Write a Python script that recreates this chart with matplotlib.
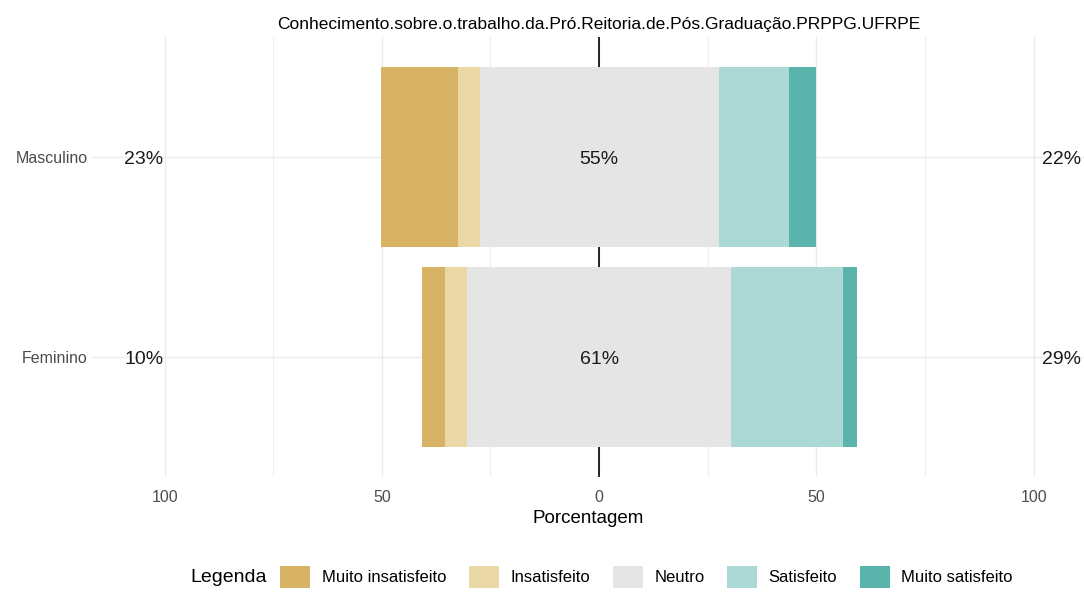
import matplotlib
matplotlib.use("Agg")
import matplotlib.pyplot as plt
from matplotlib.patches import Patch
import numpy as np

plt.rcParams['font.family'] = ['Liberation Sans', 'DejaVu Sans']

title = "Conhecimento.sobre.o.trabalho.da.Pró.Reitoria.de.Pós.Graduação.PRPPG.UFRPE"
categories = ['Masculino', 'Feminino']
levels = ['Muito insatisfeito', 'Insatisfeito', 'Neutro', 'Satisfeito', 'Muito satisfeito']
muito_insatisfeito = [17.6, 5.2]
insatisfeito = [5.0, 5.2]
neutro = [55.0, 60.6]
satisfeito = [16.1, 25.8]
muito_satisfeito = [6.3, 3.2]
xticks = [-100, -50, 0, 50, 100]
xticklabels = ['100', '50', '0', '50', '100']

colors = ['#D8B365', '#EAD8A7', '#E5E5E5', '#ACD9D5', '#5AB4AC']

W, H = 1084, 594
fig = plt.figure(figsize=(W / 100, H / 100), dpi=100)
ax = fig.add_axes([92 / W, 1 - 477 / H, (W - 92) / W, 440 / H])

ypos = np.array([2, 1])
mi = np.array(muito_insatisfeito)
ins = np.array(insatisfeito)
neu = np.array(neutro)
sat = np.array(satisfeito)
ms = np.array(muito_satisfeito)

h = 0.9
left_neu = -neu / 2
ax.barh(ypos, neu, left=left_neu, height=h, color=colors[2], zorder=3)
ax.barh(ypos, ins, left=left_neu - ins, height=h, color=colors[1], zorder=3)
ax.barh(ypos, mi, left=left_neu - ins - mi, height=h, color=colors[0], zorder=3)
ax.barh(ypos, sat, left=neu / 2, height=h, color=colors[3], zorder=3)
ax.barh(ypos, ms, left=neu / 2 + sat, height=h, color=colors[4], zorder=3)

ax.axvline(0, color='black', lw=1.2, zorder=2)

low = mi + ins
high = sat + ms
for y, lo, n, hi in zip(ypos, low, neu, high):
    ax.text(-100.3, y, f"{int(round(lo))}%", ha='right', va='center_baseline', fontsize=14, color='#1a1a1a', zorder=4)
    ax.text(102.0, y, f"{int(round(hi))}%", ha='left', va='center_baseline', fontsize=14, color='#1a1a1a', zorder=4)
    ax.text(0, y, f"{int(round(n))}%", ha='center', va='center_baseline', fontsize=14, color='#1a1a1a', zorder=4)

ax.set_xlim(-116.7, 111.6)
ax.set_ylim(0.4, 2.6)
ax.set_xticks(xticks)
ax.set_xticklabels(xticklabels)
ax.set_xticks([-75, -25, 25, 75], minor=True)
ax.set_yticks(ypos)
ax.set_yticklabels(categories)
ax.grid(True, which='major', color='#EBEBEB', lw=1.0, zorder=0)
ax.grid(True, which='minor', axis='x', color='#EFEFEF', lw=0.8, zorder=0)
ax.tick_params(axis='both', which='both', length=0)
ax.tick_params(axis='x', pad=9, labelsize=11.5, labelcolor='#4D4D4D')
ax.tick_params(axis='y', pad=3, labelsize=11.5, labelcolor='#4D4D4D')
for s in ax.spines.values():
    s.set_visible(False)
ax.set_xlabel('Porcentagem', fontsize=13.5, labelpad=4, color='black')

fig.text(599 / W, 1 - 25 / H, title, ha='center', va='center', fontsize=12.5, color='black')

fig.text(190 / W, 1 - 577 / H, 'Legenda', ha='left', va='center', fontsize=14, color='black')
handles = [Patch(facecolor=c, edgecolor='none') for c in colors]
fig.legend(handles, levels, loc='center left', bbox_to_anchor=(280 / W, 1 - 577 / H),
           ncol=5, frameon=False, fontsize=12, handlelength=1.8, handleheight=1.6,
           handletextpad=0.7, columnspacing=1.35, borderpad=0, borderaxespad=0)

fig.savefig('out.png', dpi=100)
